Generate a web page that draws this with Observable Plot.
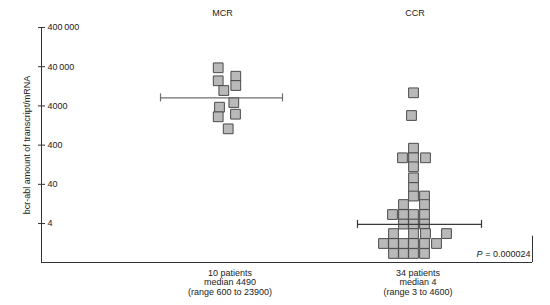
<!DOCTYPE html>
<html>
<head>
<meta charset="utf-8">
<script src="https://cdn.jsdelivr.net/npm/d3@7"></script>
<script src="https://cdn.jsdelivr.net/npm/@observablehq/plot@0.6"></script>
<style>
  html, body { margin: 0; padding: 0; background: #fff; }
  #chart { width: 550px; height: 305px; }
</style>
</head>
<body>
<div id="chart"></div>
<script>
// ---- data ----
const groups = ["MCR", "CCR"];
const groupCaptions = [
  "10 patients\nmedian 4490\n(range 600 to 23900)",
  "34 patients\nmedian 4\n(range 3 to 4600)"
];
// MCR: transcript amount per patient and its column in the dot plot (in square widths)
const mcrValues  = [37500, 17500, 22900, 13260, 9880, 4880, 3710, 2110, 2460, 1040];
const mcrColumns = [-0.43, -0.43, 1.33, 1.33, 0.13, 1.13, -0.3, -0.43, 1.3, 0.57];
// CCR
const ccrValues = [
  8630, 2277, 334,
  190, 190, 190,
  112, 58.6, 33.1,
  20.1, 20.1,
  12.2, 12.2,
  6.79, 6.79, 6.79, 6.79,
  3.88, 3.88, 3.88,
  2.22, 2.22, 2.22, 2.22,
  1.24, 1.24, 1.24, 1.24, 1.24, 1.24,
  0.69, 0.69, 0.69, 0.69
];
const ccrColumns = [
  0, -0.2, 0,
  -1.1, 0, 1.2,
  0, 0, 0,
  0, 1.1,
  -1, 1.1,
  -2.1, -1, 0, 1.1,
  -1, 0, 1.1,
  -2, 0, 1.2, 3.3,
  -3, -2, -1, 0, 1.1, 2.3,
  -2, -1, 0, 1.1
];
const medianLine = [6400, 3.8];
const yTicks = [4, 40, 400, 4000, 40000, 400000];
const yTickLabels = ["4", "40", "400", "4000", "40\u2009000", "400\u2009000"];
const pLabel = "P";
const pValueText = "= 0.000024";
const yTitle = "bcr-abl amount of transcript/mRNA";

// ---- layout (not data) ----
const groupCenter = {MCR: 0, CCR: 19.1};
const medianFrom = {MCR: -6.2, CCR: -5.6};
const medianTo = {MCR: 6.0, CCR: 6.8};
const captionShift = {MCR: 0.75, CCR: 0.45};
const topLabelShift = {MCR: 0, CCR: 0.15};
const xDomain = [-18.1, 31.0];
const yDomain = [0.406, 400000];

const points = [
  ...mcrValues.map((v, i) => ({group: "MCR", value: v, x: groupCenter.MCR + mcrColumns[i]})),
  ...ccrValues.map((v, i) => ({group: "CCR", value: v, x: groupCenter.CCR + ccrColumns[i]}))
];
const medians = groups.map((g, i) => ({
  group: g, value: medianLine[i],
  x1: groupCenter[g] + medianFrom[g], x2: groupCenter[g] + medianTo[g]
}));
const medianEnds = medians.flatMap(d => [{value: d.value, x: d.x1, group: d.group}, {value: d.value, x: d.x2, group: d.group}]);
const captions = groups.map((g, i) => ({group: g, text: groupCaptions[i], x: groupCenter[g] + captionShift[g]}));
const tops = groups.map(g => ({group: g, x: groupCenter[g] + topLabelShift[g]}));

const lineColor = g => g === "MCR" ? "#6e6e6e" : "#3a3a3a";

const chart = Plot.plot({
  width: 550,
  height: 305,
  marginLeft: 41,
  marginRight: 18,
  marginTop: 27,
  marginBottom: 43,
  x: {domain: xDomain, axis: null},
  y: {type: "log", domain: yDomain, axis: null},
  style: {fontFamily: "'Liberation Sans', Arial, Helvetica, sans-serif", fontSize: "9px", color: "#222", background: "#fff"},
  marks: [
    // axes frame
    Plot.ruleX([xDomain[0]], {stroke: "#333", strokeWidth: 1}),
    Plot.ruleY([yDomain[0]], {stroke: "#333", strokeWidth: 1}),
    Plot.ruleX([xDomain[1]], {y1: 1.9, y2: yDomain[0], stroke: "#333", strokeWidth: 1}),
    // y ticks crossing the axis
    Plot.ruleY(yTicks, {y: d => d, x1: xDomain[0], x2: xDomain[0], insetLeft: -3, insetRight: -4, stroke: "#333"}),
    Plot.text(yTicks, {y: d => d, text: (d, i) => yTickLabels[i], frameAnchor: "left", textAnchor: "start", dx: 6, fill: "#222"}),
    // y title
    Plot.text([yTitle], {frameAnchor: "left", textAnchor: "middle", rotate: -90, dx: -14, fill: "#222", fontSize: 9}),
    // squares
    Plot.dot(points, {x: "x", y: "value", symbol: "square", r: 5.5, fill: "#b9b9b9", stroke: "#4a4a4a", strokeWidth: 1}),
    // median lines
    Plot.ruleY(medians, {y: "value", x1: "x1", x2: "x2", stroke: d => lineColor(d.group), strokeWidth: 1.2}),
    Plot.ruleX(medianEnds, {x: "x", y1: "value", y2: "value", insetTop: -4, insetBottom: -4, stroke: d => lineColor(d.group), strokeWidth: 1.2}),
    // group labels
    Plot.text(tops, {x: "x", text: "group", frameAnchor: "top", dy: -18, fill: "#222"}),
    Plot.text(captions, {x: "x", text: "text", frameAnchor: "bottom", lineAnchor: "top", dy: 6, lineHeight: 1.1, fill: "#222"}),
    // P value
    Plot.text([pLabel], {frameAnchor: "bottom-right", textAnchor: "end", dx: -50, dy: -6, fontStyle: "italic", fill: "#222"}),
    Plot.text([pValueText], {frameAnchor: "bottom-right", textAnchor: "end", dx: -2, dy: -6, fill: "#222"})
  ]
});
document.getElementById("chart").appendChild(chart);
</script>
</body>
</html>
